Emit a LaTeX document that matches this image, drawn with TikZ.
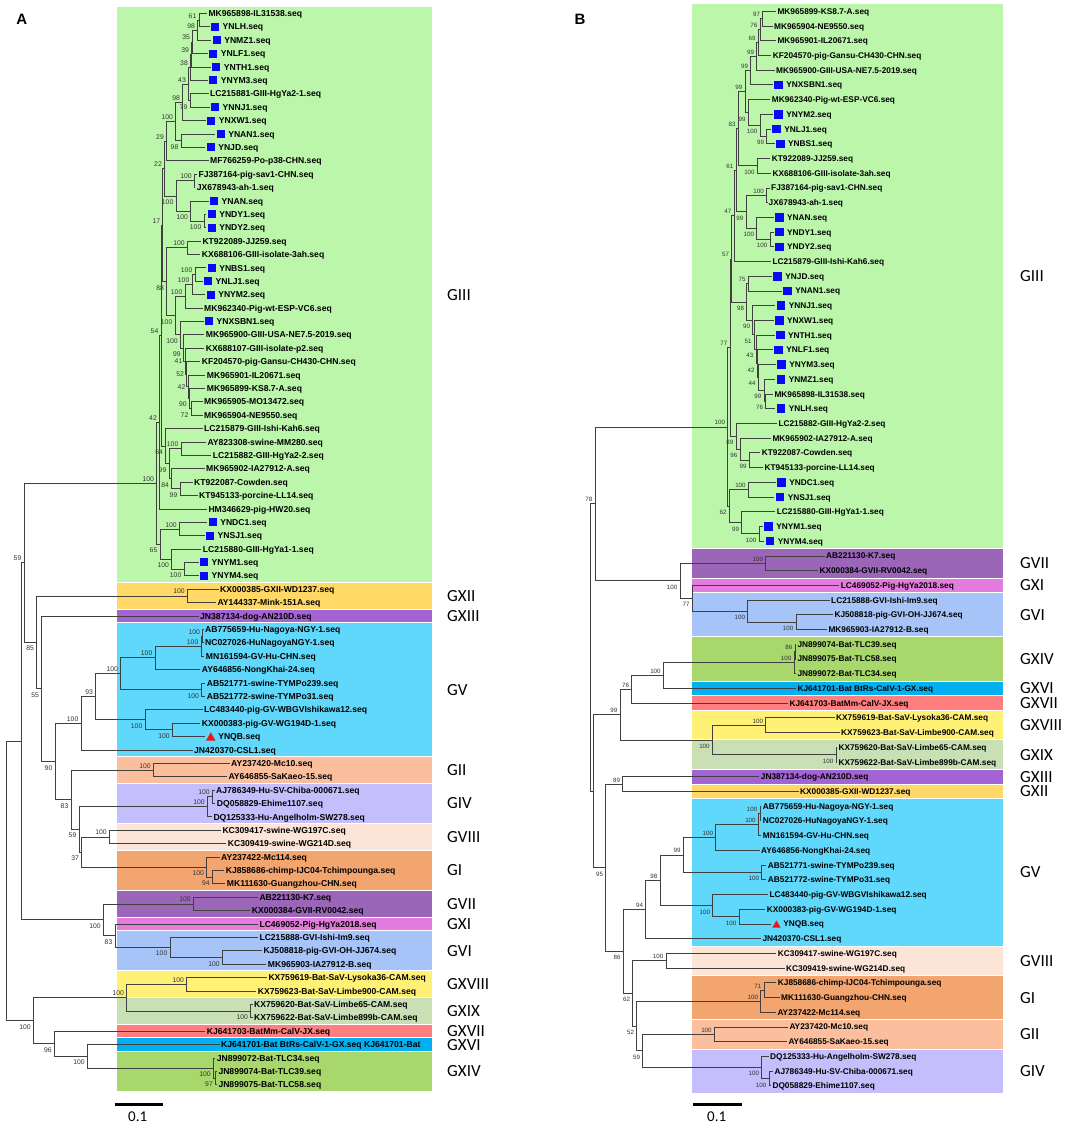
\documentclass[tikz,border=0pt]{standalone}
\usepackage{fontspec}
\setmainfont{Liberation Sans}
\newfontfamily\cfont{Carlito}
\usetikzlibrary{calc,shapes.geometric}
\definecolor{cGIII}{RGB}{187,246,171}
\definecolor{cGXII}{RGB}{255,216,102}
\definecolor{cGXIII}{RGB}{163,99,212}
\definecolor{cGV}{RGB}{96,216,251}
\definecolor{cGII}{RGB}{252,191,157}
\definecolor{cGIV}{RGB}{196,190,252}
\definecolor{cGVIII}{RGB}{252,228,214}
\definecolor{cGI}{RGB}{243,165,112}
\definecolor{cGVII}{RGB}{155,102,184}
\definecolor{cGXI}{RGB}{228,124,222}
\definecolor{cGVI}{RGB}{166,196,248}
\definecolor{cGXVIII}{RGB}{255,241,118}
\definecolor{cGXIX}{RGB}{201,224,181}
\definecolor{cGXVII}{RGB}{255,127,127}
\definecolor{cGXVI}{RGB}{0,176,240}
\definecolor{cGXIV}{RGB}{168,216,108}
\definecolor{sqblue}{RGB}{10,10,245}
\definecolor{trired}{RGB}{240,20,20}
\def\lfont{\bfseries\fontsize{8.6}{9}\selectfont}
\def\bfont{\fontsize{6.8}{7}\selectfont}
\tikzset{
  br/.style={draw=black!75, line width=0.85pt},
  leaf/.style={anchor=base west, inner sep=0pt, font=\lfont},
  sqm/.style={rectangle, fill=sqblue, inner sep=0pt, minimum size=\pMsz pt},
  trm/.style={regular polygon, regular polygon sides=3, fill=trired, inner sep=0pt, minimum size=\pTsz pt},
  bsf/.style={inner sep=0pt, font=\bfont, text=black!80},
  bsa/.style={bsf, anchor=base east, xshift=-2.5pt, yshift=2pt},
  bsb/.style={bsf, anchor=base east, xshift=-2.5pt, yshift=-8.5pt},
  bsm/.style={bsf, anchor=east, xshift=-2.5pt},
  glab/.style={anchor=west, inner sep=0pt, font=\cfont\fontsize{17}{17}\selectfont},
  plab/.style={inner sep=0pt, font=\bfseries\fontsize{15}{15}\selectfont},
  sbar/.style={draw=black, line width=2.5pt},
  sblab/.style={inner sep=0pt, font=\cfont\fontsize{15}{15}\selectfont},
}
\newcommand\LfP[4]{%
  \coordinate (#1) at ({#2-1.5},{\pYa+\pYd*#3});
  \node[leaf] (#1-t) at ({#2},{\pYa+\pYd*#3+\pLsh}) {#4};}
\newcommand\LfS[4]{%
  \coordinate (#1) at ({#2-1.5},{\pYa+\pYd*#3});
  \node[sqm] (#1-m) at ({#2+0.5*\pMsz},{\pYa+\pYd*#3}) {};
  \node[leaf] (#1-t) at ({#2+\pMsz+3.4},{\pYa+\pYd*#3+\pLsh}) {#4};}
\newcommand\LfT[4]{%
  \coordinate (#1) at ({#2-1.5},{\pYa+\pYd*#3});
  \node[trm] (#1-m) at ({#2+0.5*\pTw},{\pYa+\pYd*#3+1.3}) {};
  \node[leaf] (#1-t) at ({#2+\pTw+2.6},{\pYa+\pYd*#3+\pLsh}) {#4};}
\newcommand\Nd[6]{%
  \path let \p1=(#3), \p2=(#4) in ({#2},{0.5*(\y1+\y2)}) coordinate (#1);
  \draw[br] (#1) |- (#3) (#1) |- (#4);
  \node[bs#6] (#1-b) at (#1) {#5};}
\newcommand\Ndn[4]{%
  \path let \p1=(#3), \p2=(#4) in ({#2},{0.5*(\y1+\y2)}) coordinate (#1);
  \draw[br] (#1) |- (#3) (#1) |- (#4);}
\newcommand\Gb[5]{%
  \fill[#4] ({\pBxa},{\pYa+\pYd*#2-\pBh}) rectangle ({\pBxb},{\pYa+\pYd*#3+\pBh});
  \node[glab] (#1) at ({\pGx},{\pYa+\pYd*(#2+#3)/2}) {#5};}
\begin{document}
\begin{tikzpicture}[x=1pt,y=-1pt]
\useasboundingbox (0,0) rectangle (1084,1127);
\fill[white] (0,0) rectangle (1084,1127);
%================ PANEL A =================
\def\pYa{13.5}\def\pYd{13.39}\def\pBh{6.2}\def\pBxa{117}\def\pBxb{432}\def\pGx{447}
\def\pLsh{3.1}\def\pMsz{8}\def\pTsz{11}\def\pTw{9.5}
\def\lfont{\bfseries\fontsize{8.6}{9}\selectfont}
\def\bfont{\fontsize{6.8}{7}\selectfont}
\node[plab] (pA) at (21.7,19) {A};
\Gb{AgIII}{0}{42}{cGIII}{GIII}
\Gb{AgXII}{43}{44}{cGXII}{GXII}
\Gb{AgXIII}{45}{45}{cGXIII}{GXIII}
\Gb{AgV}{46}{55}{cGV}{GV}
\Gb{AgII}{56}{57}{cGII}{GII}
\Gb{AgIV}{58}{60}{cGIV}{GIV}
\Gb{AgVIII}{61}{62}{cGVIII}{GVIII}
\Gb{AgI}{63}{65}{cGI}{GI}
\Gb{AgVII}{66}{67}{cGVII}{GVII}
\Gb{AgXI}{68}{68}{cGXI}{GXI}
\Gb{AgVI}{69}{71}{cGVI}{GVI}
\Gb{AgXVIII}{72}{73}{cGXVIII}{GXVIII}
\Gb{AgXIX}{74}{75}{cGXIX}{GXIX}
\Gb{AgXVII}{76}{76}{cGXVII}{GXVII}
\Gb{AgXVI}{77}{77}{cGXVI}{GXVI}
\Gb{AgXIV}{78}{80}{cGXIV}{GXIV}
% leaves
\LfP{A0}{208.3}{0}{MK965898-IL31538.seq}
\LfS{A1}{211}{1}{YNLH.seq}
\LfS{A2}{212.7}{2}{YNMZ1.seq}
\LfS{A3}{209.3}{3}{YNLF1.seq}
\LfS{A4}{212.3}{4}{YNTH1.seq}
\LfS{A5}{209.3}{5}{YNYM3.seq}
\LfP{A6}{210}{6}{LC215881-GIII-HgYa2-1.seq}
\LfS{A7}{211}{7}{YNNJ1.seq}
\LfS{A8}{207.3}{8}{YNXW1.seq}
\LfS{A9}{216.7}{9}{YNAN1.seq}
\LfS{A10}{206.7}{10}{YNJD.seq}
\LfP{A11}{210}{11}{MF766259-Po-p38-CHN.seq}
\LfP{A12}{198.3}{12}{FJ387164-pig-sav1-CHN.seq}
\LfP{A13}{196.7}{13}{JX678943-ah-1.seq}
\LfS{A14}{210}{14}{YNAN.seq}
\LfS{A15}{207.7}{15}{YNDY1.seq}
\LfS{A16}{207.7}{16}{YNDY2.seq}
\LfP{A17}{202.3}{17}{KT922089-JJ259.seq}
\LfP{A18}{201.7}{18}{KX688106-GIII-isolate-3ah.seq}
\LfS{A19}{207.7}{19}{YNBS1.seq}
\LfS{A20}{204}{20}{YNLJ1.seq}
\LfS{A21}{206.7}{21}{YNYM2.seq}
\LfP{A22}{204}{22}{MK962340-Pig-wt-ESP-VC6.seq}
\LfS{A23}{205}{23}{YNXSBN1.seq}
\LfP{A24}{205.7}{24}{MK965900-GIII-USA-NE7.5-2019.seq}
\LfP{A25}{205.7}{25}{KX688107-GIII-isolate-p2.seq}
\LfP{A26}{201.7}{26}{KF204570-pig-Gansu-CH430-CHN.seq}
\LfP{A27}{206.7}{27}{MK965901-IL20671.seq}
\LfP{A28}{206.7}{28}{MK965899-KS8.7-A.seq}
\LfP{A29}{204}{29}{MK965905-MO13472.seq}
\LfP{A30}{204}{30}{MK965904-NE9550.seq}
\LfP{A31}{204}{31}{LC215879-GIII-Ishi-Kah6.seq}
\LfP{A32}{207.3}{32}{AY823308-swine-MM280.seq}
\LfP{A33}{212.7}{33}{LC215882-GIII-HgYa2-2.seq}
\LfP{A34}{206}{34}{MK965902-IA27912-A.seq}
\LfP{A35}{194}{35}{KT922087-Cowden.seq}
\LfP{A36}{199}{36}{KT945133-porcine-LL14.seq}
\LfP{A37}{208.3}{37}{HM346629-pig-HW20.seq}
\LfS{A38}{208.7}{38}{YNDC1.seq}
\LfS{A39}{206}{39}{YNSJ1.seq}
\LfP{A40}{202.7}{40}{LC215880-GIII-HgYa1-1.seq}
\LfS{A41}{200}{41}{YNYM1.seq}
\LfS{A42}{200}{42}{YNYM4.seq}
\LfP{A43}{220}{43}{KX000385-GXII-WD1237.seq}
\LfP{A44}{217.3}{44}{AY144337-Mink-151A.seq}
\LfP{A45}{200}{45}{JN387134-dog-AN210D.seq}
\LfP{A46}{205}{46}{AB775659-Hu-Nagoya-NGY-1.seq}
\LfP{A47}{205}{47}{NC027026-HuNagoyaNGY-1.seq}
\LfP{A48}{205.7}{48}{MN161594-GV-Hu-CHN.seq}
\LfP{A49}{201.7}{49}{AY646856-NongKhai-24.seq}
\LfP{A50}{206.7}{50}{AB521771-swine-TYMPo239.seq}
\LfP{A51}{206.7}{51}{AB521772-swine-TYMPo31.seq}
\LfP{A52}{204}{52}{LC483440-pig-GV-WBGVIshikawa12.seq}
\LfP{A53}{201.7}{53}{KX000383-pig-GV-WG194D-1.seq}
\LfT{A54}{206}{54}{YNQB.seq}
\LfP{A55}{194}{55}{JN420370-CSL1.seq}
\LfP{A56}{231}{56}{AY237420-Mc10.seq}
\LfP{A57}{228.3}{57}{AY646855-SaKaeo-15.seq}
\LfP{A58}{216}{58}{AJ786349-Hu-SV-Chiba-000671.seq}
\LfP{A59}{216.7}{59}{DQ058829-Ehime1107.seq}
\LfP{A60}{213.3}{60}{DQ125333-Hu-Angelholm-SW278.seq}
\LfP{A61}{222.3}{61}{KC309417-swine-WG197C.seq}
\LfP{A62}{227.7}{62}{KC309419-swine-WG214D.seq}
\LfP{A63}{221}{63}{AY237422-Mc114.seq}
\LfP{A64}{225.7}{64}{KJ858686-chimp-IJC04-Tchimpounga.seq}
\LfP{A65}{226.7}{65}{MK111630-Guangzhou-CHN.seq}
\LfP{A66}{259.3}{66}{AB221130-K7.seq}
\LfP{A67}{251.7}{67}{KX000384-GVII-RV0042.seq}
\LfP{A68}{259.3}{68}{LC469052-Pig-HgYa2018.seq}
\LfP{A69}{259.3}{69}{LC215888-GVI-Ishi-Im9.seq}
\LfP{A70}{263.3}{70}{KJ508818-pig-GVI-OH-JJ674.seq}
\LfP{A71}{267.7}{71}{MK965903-IA27912-B.seq}
\LfP{A72}{268.3}{72}{KX759619-Bat-SaV-Lysoka36-CAM.seq}
\LfP{A73}{257.7}{73}{KX759623-Bat-SaV-Limbe900-CAM.seq}
\LfP{A74}{254}{74}{KX759620-Bat-SaV-Limbe65-CAM.seq}
\LfP{A75}{254}{75}{KX759622-Bat-SaV-Limbe899b-CAM.seq}
\LfP{A76}{206.7}{76}{KJ641703-BatMm-CalV-JX.seq}
\LfP{A77}{221}{77}{KJ641701-Bat BtRs-CalV-1-GX.seq KJ641701-Bat}
\LfP{A78}{216.7}{78}{JN899072-Bat-TLC34.seq}
\LfP{A79}{218.3}{79}{JN899074-Bat-TLC39.seq}
\LfP{A80}{218.3}{80}{JN899075-Bat-TLC58.seq}
% internal nodes A
\Nd{a1}{199}{A0}{A1}{61}{a}
\Nd{a2}{197.7}{a1}{A2}{98}{a}
\Nd{a3}{192.7}{a2}{A3}{35}{a}
\Nd{a4}{191.7}{a3}{A4}{39}{a}
\Nd{a5}{190.5}{a4}{A5}{38}{a}
\Nd{a6}{190}{A6}{A7}{79}{b}
\Nd{a7}{188.5}{a5}{a6}{43}{a}
\Nd{a8}{182.7}{a7}{A8}{98}{a}
\Nd{a9}{181}{A9}{A10}{98}{b}
\Nd{a10}{175.7}{a8}{a9}{100}{a}
\Nd{a11}{166.5}{a10}{A11}{29}{a}
\Nd{a12}{194.3}{A12}{A13}{100}{a}
\Nd{a13}{204}{A15}{A16}{100}{b}
\Nd{a14}{190.7}{A14}{a13}{100}{b}
\Nd{a15}{176}{a12}{a14}{100}{b}
\Nd{a16}{164.5}{a11}{a15}{22}{a}
\Nd{a17}{187.3}{A17}{A18}{100}{a}
\Nd{a18}{195}{A19}{A20}{100}{a}
\Nd{a19}{192}{a18}{A21}{100}{a}
\Nd{a20}{185}{a19}{A22}{100}{a}
\Nd{n1}{191}{A29}{A30}{72}{b}
\Nd{n2}{189.3}{A28}{n1}{90}{b}
\Nd{n3}{188}{A27}{n2}{42}{m}
\Nd{n4}{186.7}{A26}{n3}{52}{m}
\Nd{n5}{185}{A25}{n4}{41}{m}
\Nd{n6}{183.3}{A24}{n5}{99}{b}
\Nd{n7}{180.3}{A23}{n6}{100}{b}
\Nd{a22}{175}{a20}{n7}{100}{b}
\Nd{a23}{166.7}{a17}{a22}{88}{b}
\Nd{a24}{162.8}{a16}{a23}{17}{a}
\Nd{b1}{181}{A32}{A33}{100}{a}
\Nd{b2}{180}{A35}{A36}{99}{b}
\Nd{b3}{171.7}{A34}{b2}{84}{b}
\Nd{b4}{169}{b1}{b3}{99}{b}
\Nd{b5}{165.7}{A31}{b4}{64}{b}
\Nd{a25}{161}{a24}{b5}{54}{a}
\Nd{a26}{159.5}{a25}{A37}{42}{a}
\Nd{c1}{179.3}{A38}{A39}{100}{a}
\Nd{c2}{184}{A41}{A42}{100}{b}
\Nd{c3}{171.7}{A40}{c2}{100}{b}
\Nd{c4}{160}{c1}{c3}{65}{b}
\Nd{GA3}{156.7}{a26}{c4}{100}{a}
\Nd{x12}{187.3}{A43}{A44}{100}{a}
\Nd{g1}{202.7}{A46}{A47}{100}{a}
\Nd{g2}{201}{g1}{A48}{100}{a}
\Nd{g3}{155}{g2}{A49}{100}{a}
\Nd{g4}{201.7}{A50}{A51}{100}{b}
\Nd{g5}{120.7}{g3}{g4}{100}{a}
\Nd{g6}{172.3}{A53}{A54}{100}{b}
\Nd{g7}{145}{A52}{g6}{100}{b}
\Nd{g8}{95.7}{g5}{g7}{93}{a}
\Nd{g9}{81}{g8}{A55}{100}{a}
\Nd{gII}{153.3}{A56}{A57}{100}{a}
\Nd{gIVa}{212.3}{A58}{A59}{100}{a}
\Nd{gIV}{207.3}{gIVa}{A60}{100}{a}
\Nd{gVIII}{109.3}{A61}{A62}{100}{a}
\Nd{gIa}{212.3}{A64}{A65}{94}{b}
\Nd{gI}{206.7}{A63}{gIa}{100}{b}
\Nd{h1}{81.7}{gVIII}{gI}{37}{b}
\Nd{h2}{79}{gIV}{h1}{59}{b}
\Nd{h3}{71}{gII}{h2}{83}{b}
\Nd{h4}{55}{g9}{h3}{90}{b}
\Nd{h5}{41.7}{A45}{h4}{55}{b}
\Nd{h6}{36.7}{x12}{h5}{85}{b}
\Nd{h7}{24}{GA3}{h6}{59}{a}
\Nd{gVII}{193.3}{A66}{A67}{100}{a}
\Nd{gVIa}{222.3}{A70}{A71}{100}{b}
\Nd{gVI}{170}{A69}{gVIa}{100}{b}
\Nd{gXI}{115}{A68}{gVI}{83}{b}
\Nd{Qa}{103.3}{gVII}{gXI}{100}{b}
\Ndn{Pa}{21.7}{h7}{Qa}
\Nd{gXVIII}{186.7}{A72}{A73}{100}{a}
\Nd{gXIX}{250.7}{A74}{A75}{100}{b}
\Nd{Ta}{126.7}{gXVIII}{gXIX}{100}{a}
\Nd{gXIVa}{215.5}{A79}{A80}{97}{b}
\Nd{gXIV}{213.3}{A78}{gXIVa}{100}{b}
\Nd{Va}{87.3}{A77}{gXIV}{100}{b}
\Nd{Ua}{54.3}{A76}{Va}{96}{b}
\Nd{Sa}{33.3}{Ta}{Ua}{100}{b}
\Ndn{RA}{6.7}{Pa}{Sa}
\coordinate (sa1) at (115,1104.3);
\coordinate (sa2) at (163.3,1104.3);
\draw[sbar] (sa1) -- (sa2);
\node[sblab] (sal) at (137.7,1117) {0.1};
%================ PANEL B =================
\def\pYa{11.3}\def\pYd{14.72}\def\pBh{6.86}\def\pBxa{692}\def\pBxb{1003}\def\pGx{1020}
\def\pLsh{3.0}\def\pMsz{8.5}\def\pTsz{9.6}\def\pTw{8.3}
\def\lfont{\bfseries\fontsize{8.3}{9}\selectfont}
\def\bfont{\fontsize{6.2}{7}\selectfont}
\node[plab] (pB) at (580,19) {B};
\Gb{BgIII}{0}{36}{cGIII}{GIII}
\Gb{BgVII}{37}{38}{cGVII}{GVII}
\Gb{BgXI}{39}{39}{cGXI}{GXI}
\Gb{BgVI}{40}{42}{cGVI}{GVI}
\Gb{BgXIV}{43}{45}{cGXIV}{GXIV}
\Gb{BgXVI}{46}{46}{cGXVI}{GXVI}
\Gb{BgXVII}{47}{47}{cGXVII}{GXVII}
\Gb{BgXVIII}{48}{49}{cGXVIII}{GXVIII}
\Gb{BgXIX}{50}{51}{cGXIX}{GXIX}
\Gb{BgXIII}{52}{52}{cGXIII}{GXIII}
\Gb{BgXII}{53}{53}{cGXII}{GXII}
\Gb{BgV}{54}{63}{cGV}{GV}
\Gb{BgVIII}{64}{65}{cGVIII}{GVIII}
\Gb{BgI}{66}{68}{cGI}{GI}
\Gb{BgII}{69}{70}{cGII}{GII}
\Gb{BgIV}{71}{73}{cGIV}{GIV}
\LfP{B0}{777.3}{0}{MK965899-KS8.7-A.seq}
\LfP{B1}{774}{1}{MK965904-NE9550.seq}
\LfP{B2}{777.3}{2}{MK965901-IL20671.seq}
\LfP{B3}{772.7}{3}{KF204570-pig-Gansu-CH430-CHN.seq}
\LfP{B4}{776}{4}{MK965900-GIII-USA-NE7.5-2019.seq}
\LfS{B5}{774.3}{5}{YNXSBN1.seq}
\LfP{B6}{771.7}{6}{MK962340-Pig-wt-ESP-VC6.seq}
\LfS{B7}{774.3}{7}{YNYM2.seq}
\LfS{B8}{772.3}{8}{YNLJ1.seq}
\LfS{B9}{776}{9}{YNBS1.seq}
\LfP{B10}{771.7}{10}{KT922089-JJ259.seq}
\LfP{B11}{772.3}{11}{KX688106-GIII-isolate-3ah.seq}
\LfP{B12}{771}{12}{FJ387164-pig-sav1-CHN.seq}
\LfP{B13}{768.5}{13}{JX678943-ah-1.seq}
\LfS{B14}{775}{14}{YNAN.seq}
\LfS{B15}{775}{15}{YNDY1.seq}
\LfS{B16}{775}{16}{YNDY2.seq}
\LfP{B17}{772.3}{17}{LC215879-GIII-Ishi-Kah6.seq}
\LfS{B18}{773.3}{18}{YNJD.seq}
\LfS{B19}{783.3}{19}{YNAN1.seq}
\LfS{B20}{776.7}{20}{YNNJ1.seq}
\LfS{B21}{775}{21}{YNXW1.seq}
\LfS{B22}{776}{22}{YNTH1.seq}
\LfS{B23}{774.3}{23}{YNLF1.seq}
\LfS{B24}{777.3}{24}{YNYM3.seq}
\LfS{B25}{776.7}{25}{YNMZ1.seq}
\LfP{B26}{774.3}{26}{MK965898-IL31538.seq}
\LfS{B27}{776.7}{27}{YNLH.seq}
\LfP{B28}{778.3}{28}{LC215882-GIII-HgYa2-2.seq}
\LfP{B29}{772.3}{29}{MK965902-IA27912-A.seq}
\LfP{B30}{761.7}{30}{KT922087-Cowden.seq}
\LfP{B31}{764.3}{31}{KT945133-porcine-LL14.seq}
\LfS{B32}{777.3}{32}{YNDC1.seq}
\LfS{B33}{775.7}{33}{YNSJ1.seq}
\LfP{B34}{776.7}{34}{LC215880-GIII-HgYa1-1.seq}
\LfS{B35}{764.3}{35}{YNYM1.seq}
\LfS{B36}{765.7}{36}{YNYM4.seq}
\LfP{B37}{826}{37}{AB221130-K7.seq}
\LfP{B38}{819.3}{38}{KX000384-GVII-RV0042.seq}
\LfP{B39}{840.7}{39}{LC469052-Pig-HgYa2018.seq}
\LfP{B40}{831}{40}{LC215888-GVI-Ishi-Im9.seq}
\LfP{B41}{834.3}{41}{KJ508818-pig-GVI-OH-JJ674.seq}
\LfP{B42}{828.3}{42}{MK965903-IA27912-B.seq}
\LfP{B43}{797.3}{43}{JN899074-Bat-TLC39.seq}
\LfP{B44}{797.3}{44}{JN899075-Bat-TLC58.seq}
\LfP{B45}{797.3}{45}{JN899072-Bat-TLC34.seq}
\LfP{B46}{797.3}{46}{KJ641701-Bat BtRs-CalV-1-GX.seq}
\LfP{B47}{789.3}{47}{KJ641703-BatMm-CalV-JX.seq}
\LfP{B48}{836}{48}{KX759619-Bat-SaV-Lysoka36-CAM.seq}
\LfP{B49}{841}{49}{KX759623-Bat-SaV-Limbe900-CAM.seq}
\LfP{B50}{838.3}{50}{KX759620-Bat-SaV-Limbe65-CAM.seq}
\LfP{B51}{838.3}{51}{KX759622-Bat-SaV-Limbe899b-CAM.seq}
\LfP{B52}{760.7}{52}{JN387134-dog-AN210D.seq}
\LfP{B53}{800}{53}{KX000385-GXII-WD1237.seq}
\LfP{B54}{762.7}{54}{AB775659-Hu-Nagoya-NGY-1.seq}
\LfP{B55}{762.7}{55}{NC027026-HuNagoyaNGY-1.seq}
\LfP{B56}{762.7}{56}{MN161594-GV-Hu-CHN.seq}
\LfP{B57}{761}{57}{AY646856-NongKhai-24.seq}
\LfP{B58}{767.7}{58}{AB521771-swine-TYMPo239.seq}
\LfP{B59}{767.7}{59}{AB521772-swine-TYMPo31.seq}
\LfP{B60}{769.3}{60}{LC483440-pig-GV-WBGVIshikawa12.seq}
\LfP{B61}{766.7}{61}{KX000383-pig-GV-WG194D-1.seq}
\LfT{B62}{772.3}{62}{YNQB.seq}
\LfP{B63}{762.3}{63}{JN420370-CSL1.seq}
\LfP{B64}{777.7}{64}{KC309417-swine-WG197C.seq}
\LfP{B65}{786}{65}{KC309419-swine-WG214D.seq}
\LfP{B66}{777.7}{66}{KJ858686-chimp-IJC04-Tchimpounga.seq}
\LfP{B67}{781}{67}{MK111630-Guangzhou-CHN.seq}
\LfP{B68}{777.3}{68}{AY237422-Mc114.seq}
\LfP{B69}{789.3}{69}{AY237420-Mc10.seq}
\LfP{B70}{788.3}{70}{AY646855-SaKaeo-15.seq}
\LfP{B71}{770}{71}{DQ125333-Hu-Angelholm-SW278.seq}
\LfP{B72}{774.3}{72}{AJ786349-Hu-SV-Chiba-000671.seq}
\LfP{B73}{772.3}{73}{DQ058829-Ehime1107.seq}
% internal nodes B
\Nd{b01}{762.7}{B0}{B1}{97}{a}
\Nd{b02}{760}{b01}{B2}{76}{a}
\Nd{b03}{758.3}{b02}{B3}{69}{a}
\Nd{b04}{756.7}{b03}{B4}{99}{a}
\Nd{b05}{750.7}{b04}{B5}{99}{a}
\Nd{b89}{766.7}{B8}{B9}{99}{b}
\Nd{b79}{760}{B7}{b89}{100}{b}
\Nd{b69}{748.3}{B6}{b79}{99}{b}
\Nd{b09}{745}{b05}{b69}{99}{a}
\Nd{b1011}{757.3}{B10}{B11}{100}{b}
\Nd{b011}{738.3}{b09}{b1011}{83}{a}
\Nd{b1213}{766.5}{B12}{B13}{100}{a}
\Nd{b1516}{770}{B15}{B16}{100}{b}
\Nd{b1416}{756.7}{B14}{b1516}{100}{b}
\Nd{b1216}{746}{b1213}{b1416}{99}{b}
\Nd{b016}{736}{b011}{b1216}{61}{a}
\Nd{b017}{734}{b016}{B17}{47}{a}
\Nd{b1819}{748.3}{B18}{B19}{75}{a}
\Nd{b2627}{765.7}{B26}{B27}{76}{b}
\Nd{b2527}{764}{B25}{b2627}{99}{b}
\Nd{b2427}{758.3}{B24}{b2527}{44}{b}
\Nd{b2327}{757.3}{B23}{b2427}{42}{b}
\Nd{b2227}{756}{B22}{b2327}{43}{b}
\Nd{b2127}{754.3}{B21}{b2227}{51}{b}
\Nd{b2027}{752.7}{B20}{b2127}{90}{b}
\Nd{b1827}{746.7}{b1819}{b2027}{98}{b}
\Nd{b027}{731.7}{b017}{b1827}{57}{a}
\Nd{b3031}{749.3}{B30}{B31}{99}{b}
\Nd{b2931}{740}{B29}{b3031}{96}{b}
\Nd{b2831}{736}{B28}{b2931}{89}{b}
\Nd{b031}{730}{b027}{b2831}{77}{a}
\Nd{b3233}{748.3}{B32}{B33}{100}{a}
\Nd{b3536}{759}{B35}{B36}{100}{b}
\Nd{b3436}{741.7}{B34}{b3536}{99}{b}
\Nd{b3236}{729.3}{b3233}{b3436}{62}{b}
\Nd{GB3}{727.7}{b031}{b3236}{100}{a}
\Nd{b3738}{765.7}{B37}{B38}{100}{a}
\Nd{b4142}{796}{B41}{B42}{100}{b}
\Nd{b4042}{747.7}{B40}{b4142}{100}{b}
\Nd{b3942}{692.3}{B39}{b4042}{77}{b}
\Nd{Wb}{680}{b3738}{b3942}{100}{b}
\Nd{b78}{595}{GB3}{Wb}{78}{a}
\Nd{b4344}{795}{B43}{B44}{86}{a}
\Nd{b4345}{794}{b4344}{B45}{100}{a}
\Nd{b4346}{663.3}{b4345}{B46}{100}{a}
\Nd{b4347}{631.7}{b4346}{B47}{76}{a}
\Nd{b4849}{765.7}{B48}{B49}{100}{a}
\Nd{b5051}{836}{B50}{B51}{100}{b}
\Nd{b4851}{712.3}{b4849}{b5051}{100}{b}
\Nd{b99}{620}{b4347}{b4851}{99}{a}
\Nd{b5253}{622.7}{B52}{B53}{89}{a}
\Nd{b5455}{760}{B54}{B55}{100}{a}
\Nd{b5456}{758.3}{b5455}{B56}{100}{a}
\Nd{b5457}{715.7}{b5456}{B57}{100}{a}
\Nd{b5859}{761.7}{B58}{B59}{100}{b}
\Nd{b5459}{683.3}{b5457}{b5859}{99}{a}
\Nd{b6162}{739}{B61}{B62}{100}{b}
\Nd{b6062}{712.7}{B60}{b6162}{100}{b}
\Nd{b5462}{660}{b5459}{b6062}{98}{a}
\Nd{GBV}{645.7}{b5462}{B63}{94}{a}
\Nd{b6465}{666}{B64}{B65}{100}{a}
\Nd{b6667}{764}{B66}{B67}{71}{a}
\Nd{b6668}{760.7}{b6667}{B68}{100}{a}
\Nd{b6970}{714.3}{B69}{B70}{100}{a}
\Nd{b7273}{769}{B72}{B73}{100}{b}
\Nd{b7173}{761.7}{B71}{b7273}{100}{b}
\Nd{b6973}{642.7}{b6970}{b7173}{59}{b}
\Nd{b6673}{636.7}{b6668}{b6973}{52}{b}
\Nd{b6473}{632.7}{b6465}{b6673}{62}{b}
\Nd{b86}{623.3}{GBV}{b6473}{86}{b}
\Nd{b95}{605.7}{b5253}{b86}{95}{b}
\Ndn{b9195}{593.3}{b99}{b95}
\Ndn{RB}{590}{b78}{b9195}
\coordinate (sb1) at (692.7,1104.3);
\coordinate (sb2) at (741.7,1104.3);
\draw[sbar] (sb1) -- (sb2);
\node[sblab] (sbl) at (716.7,1117) {0.1};
\end{tikzpicture}
\end{document}
